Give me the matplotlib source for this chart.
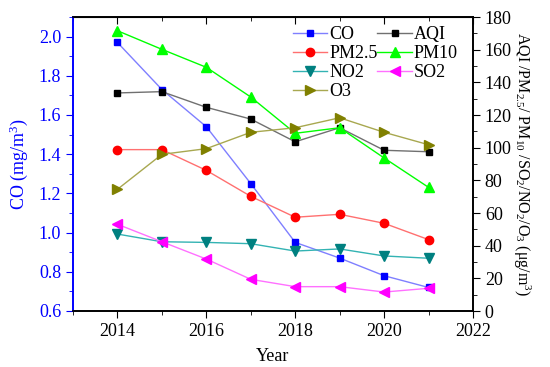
import matplotlib.pyplot as plt
from matplotlib.ticker import MultipleLocator

plt.rcParams['font.family'] = ['Liberation Serif', 'DejaVu Serif']
plt.rcParams['mathtext.fontset'] = 'custom'
plt.rcParams['mathtext.rm'] = 'Liberation Serif'
plt.rcParams['mathtext.it'] = 'Liberation Serif:italic'

years = [2014, 2015, 2016, 2017, 2018, 2019, 2020, 2021]
co = [1.97, 1.73, 1.54, 1.25, 0.95, 0.87, 0.78, 0.72]
aqi = [133.5, 134.3, 124.7, 117.5, 103.6, 112.2, 98.4, 97.5]
pm25 = [98.8, 98.8, 86.1, 70.2, 57.4, 59.2, 53.7, 43.7]
pm10 = [171.6, 160.2, 149.2, 131.0, 108.8, 112.2, 93.7, 75.7]
no2 = [47.1, 42.4, 42.0, 41.2, 36.7, 38.0, 33.7, 32.3]
so2 = [53.1, 42.4, 31.8, 19.4, 14.9, 14.9, 11.6, 13.9]
o3 = [74.5, 95.9, 99.4, 109.4, 112.2, 118.3, 109.4, 101.8]

fig = plt.figure(figsize=(5.5, 3.67), dpi=100)
ax = fig.add_axes([73/550, 1 - 311/367, 400/550, 294/367])
ax2 = ax.twinx()

ms = 6
h_co, = ax.plot(years, co, color='#7f7fff', lw=1, marker='s', ms=ms-1,
                mfc='#0000ff', mec='#0000ff', label='CO')
h_aqi, = ax2.plot(years, aqi, color='#707070', lw=1, marker='s', ms=ms-1,
                  mfc='black', mec='black', label='AQI')
h_pm25, = ax2.plot(years, pm25, color='#ff7070', lw=1, marker='o', ms=ms,
                   mfc='red', mec='red', label='PM2.5')
h_pm10, = ax2.plot(years, pm10, color='#00ff00', lw=1, marker='^', ms=ms+1,
                   mfc='#00ff00', mec='#00ff00', label='PM10')
h_no2, = ax2.plot(years, no2, color='#33b3b3', lw=1, marker='v', ms=ms+1,
                  mfc='#008080', mec='#008080', label='NO2')
h_so2, = ax2.plot(years, so2, color='#ff70ff', lw=1, marker='<', ms=ms+1,
                  mfc='#ff00ff', mec='#ff00ff', label='SO2')
h_o3, = ax2.plot(years, o3, color='#a8a850', lw=1, marker='>', ms=ms+1,
                 mfc='#808000', mec='#808000', label='O3')

ax.set_xlim(2013, 2022)
ax.set_ylim(0.6, 2.1)
ax2.set_ylim(0, 180)

ax.xaxis.set_major_locator(MultipleLocator(2))
ax.xaxis.set_minor_locator(MultipleLocator(1))
ax.yaxis.set_major_locator(MultipleLocator(0.2))
ax.yaxis.set_minor_locator(MultipleLocator(0.1))
ax2.yaxis.set_major_locator(MultipleLocator(20))
ax2.yaxis.set_minor_locator(MultipleLocator(10))

ax.tick_params(axis='x', which='major', direction='out', length=5, labelsize=13)
ax.tick_params(axis='x', which='minor', direction='out', length=3)
ax.tick_params(axis='y', which='major', direction='out', length=5,
               colors='#0000ff', labelsize=13)
ax.tick_params(axis='y', which='minor', direction='out', length=3, colors='#0000ff')
ax2.tick_params(axis='y', which='major', direction='out', length=5, labelsize=13)
ax2.tick_params(axis='y', which='minor', direction='out', length=3)
ax.yaxis.set_major_formatter(plt.FormatStrFormatter('%.1f'))

top = ax.secondary_xaxis('top')
top.xaxis.set_major_locator(MultipleLocator(2))
top.xaxis.set_minor_locator(MultipleLocator(1))
top.tick_params(which='major', direction='in', length=5, labeltop=False)
top.tick_params(which='minor', direction='in', length=3)

ax.spines['left'].set_color('#0000ff')
ax2.spines['left'].set_color('#0000ff')
for a in (ax, ax2):
    for s in a.spines.values():
        s.set_linewidth(1.2)

ax.set_xlabel('Year', fontsize=13, labelpad=6)
ax.set_ylabel('CO (mg/m$^3$)', color='#0000ff', fontsize=13, labelpad=6)
ax2.set_ylabel('AQI /PM$_{2.5}$/ PM$_{10}$ /SO$_2$/NO$_2$/O$_3$ (μg/m$^3$)',
               rotation=270, fontsize=11.5, labelpad=15)

handles = [h_co, h_pm25, h_no2, h_o3, h_aqi, h_pm10, h_so2]
ax2.legend(handles=handles, ncol=2, loc='upper left', bbox_to_anchor=(0.55, 0.97),
           frameon=False, fontsize=13, handlelength=1.9, handletextpad=0.1,
           columnspacing=0.0, labelspacing=0.12, borderaxespad=0.0, borderpad=0.0)

fig.savefig('out.png', dpi=100)
